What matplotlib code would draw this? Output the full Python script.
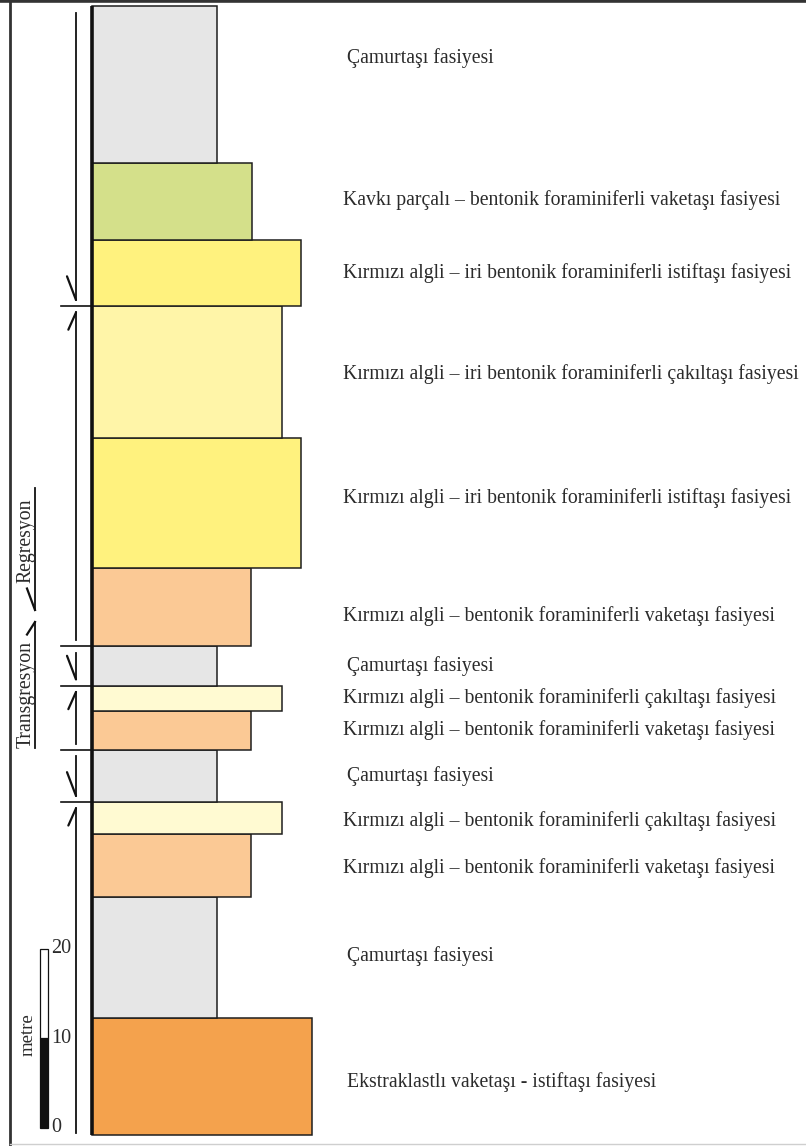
import matplotlib
matplotlib.use("Agg")
import matplotlib.pyplot as plt
import numpy as np

# Stratigraphic column, listed from bottom to top
facies = [
    "Ekstraklastlı vaketaşı - istiftaşı fasiyesi",
    "Çamurtaşı fasiyesi",
    "Kırmızı algli – bentonik foraminiferli vaketaşı fasiyesi",
    "Kırmızı algli – bentonik foraminiferli çakıltaşı fasiyesi",
    "Çamurtaşı fasiyesi",
    "Kırmızı algli – bentonik foraminiferli vaketaşı fasiyesi",
    "Kırmızı algli – bentonik foraminiferli çakıltaşı fasiyesi",
    "Çamurtaşı fasiyesi",
    "Kırmızı algli – bentonik foraminiferli vaketaşı fasiyesi",
    "Kırmızı algli – iri bentonik foraminiferli istiftaşı fasiyesi",
    "Kırmızı algli – iri bentonik foraminiferli çakıltaşı fasiyesi",
    "Kırmızı algli – iri bentonik foraminiferli istiftaşı fasiyesi",
    "Kavkı parçalı – bentonik foraminiferli vaketaşı fasiyesi",
    "Çamurtaşı fasiyesi",
]
thickness_m = [13.1, 13.5, 7.0, 3.6, 5.8, 4.4, 2.8, 4.4, 8.7, 14.6, 14.7, 7.4, 8.6, 17.5]
texture = ["extraclast", "mud", "wacke", "rud", "mud", "wacke", "rud", "mud",
           "wacke", "grain", "pack", "grain", "shellwacke", "mud"]

# Relative column width per texture class
texture_width = {"mud": 125, "wacke": 159, "shellwacke": 160, "rud": 190,
                 "pack": 190, "grain": 209, "extraclast": 220}
texture_color = {"mud": "#e6e6e6", "wacke": "#fbc995", "shellwacke": "#d4e08a",
                 "rud": "#fffad2", "pack": "#fff5a8", "grain": "#fff27e",
                 "extraclast": "#f4a24d"}

# Shallowing / deepening cycles: (bottom, top) as layer-boundary indices
cycle_bounds = [0, 4, 5, 7, 8, 11, 14]
cycle_dir = ["up", "down", "up", "down", "up", "down"]

scale_ticks = [0, 10, 20]

# ---------------------------------------------------------------
PX_PER_M = 8.95
FIG_W, FIG_H = 806, 1146
base_px = 1135
y_top = base_px / PX_PER_M
y_bot = -(FIG_H - base_px) / PX_PER_M

fig = plt.figure(figsize=(FIG_W / 100, FIG_H / 100), dpi=100)
ax = fig.add_axes([0, 0, 1, 1])
ax.set_xlim(0, FIG_W)
ax.set_ylim(y_bot, y_top)
ax.axis("off")

serif = ["Liberation Serif", "DejaVu Serif"]
text_col = "#2b2b2b"
edge = "#1e1e1e"
FS = 14.2

thick = np.array(thickness_m)
tops = np.cumsum(thick)
bases = tops - thick
centers = bases + thick / 2
bounds = np.concatenate([[0], tops])

x0 = 92
widths = [texture_width[t] for t in texture]
colors = [texture_color[t] for t in texture]
ax.barh(centers, widths, height=thick, left=x0, color=colors,
        edgecolor=edge, linewidth=1.1, zorder=2)
# heavy left edge of the column
ax.plot([x0, x0], [0, tops[-1]], color="#111", lw=2.6, zorder=3,
        solid_capstyle="butt")

# facies names, nudged vertically within their beds
label_shift = np.array([-0.6, 0.2, -0.3, -0.3, 0.0, 0.0, 0.0, 0.0,
                        -1.0, 0.6, -0.2, 0.0, 0.2, 3.0])
for c, s, name in zip(centers, label_shift, facies):
    x_txt = 343 if name.startswith("K") else 347
    ax.text(x_txt, c + s, name, ha="left", va="center", fontsize=FS,
            family=serif, color=text_col, zorder=4)

# cycle arrows
ax_x = 76
gap = 0.7
barb_h = 2.4
barb_w = 9
for i, d in enumerate(cycle_dir):
    lo = bounds[cycle_bounds[i]] + gap
    hi = bounds[cycle_bounds[i + 1]] - gap
    if i == len(cycle_dir) - 1:
        hi = bounds[-1] - 0.7
    if i == 0:
        lo = bounds[0] + 0.2
    ax.plot([ax_x, ax_x], [lo, hi], color="#111", lw=1.3, zorder=3)
    if d == "up":
        ax.plot([ax_x, ax_x - barb_w * 0.85], [hi, hi - barb_h * 0.8],
                color="#111", lw=1.6, zorder=3, solid_capstyle="round")
    else:
        ax.plot([ax_x, ax_x - barb_w], [lo, lo + barb_h * 1.1],
                color="#111", lw=1.6, zorder=3, solid_capstyle="round")
for k in cycle_bounds[1:-1]:
    ax.plot([61, x0], [bounds[k], bounds[k]], color="#111", lw=1.2, zorder=3)

# regression / transgression labels
reg_lo, reg_hi = (1135 - 610) / PX_PER_M, (1135 - 488) / PX_PER_M
tr_lo, tr_hi = (1135 - 748) / PX_PER_M, (1135 - 622) / PX_PER_M
lx = 35
ax.plot([lx, lx], [reg_lo, reg_hi], color="#111", lw=1.3)
ax.plot([lx, lx - 8], [reg_lo, reg_lo + 2.4], color="#111", lw=1.6)
ax.plot([lx, lx], [tr_lo, tr_hi], color="#111", lw=1.3)
ax.plot([lx, lx - 8], [tr_hi, tr_hi - 1.4], color="#111", lw=1.6)
ax.text(26, (1135 - 541) / PX_PER_M, "Regresyon", rotation=90, ha="center",
        va="center", fontsize=FS, family=serif, color=text_col)
ax.text(26, (1135 - 694) / PX_PER_M, "Transgresyon", rotation=90, ha="center",
        va="center", fontsize=FS, family=serif, color=text_col)

# metre scale bar
sb_base = 0.8
sb_x, sb_w = 40, 8
ax.bar(sb_x + sb_w / 2, scale_ticks[1] - scale_ticks[0], width=sb_w,
       bottom=sb_base, color="#111", edgecolor="#111", lw=0.9, zorder=3)
ax.bar(sb_x + sb_w / 2, scale_ticks[2] - scale_ticks[1], width=sb_w,
       bottom=sb_base + scale_ticks[1], color="white", edgecolor="#111",
       lw=0.9, zorder=3)
for t in scale_ticks:
    ax.text(sb_x + sb_w + 3, sb_base + t, str(t), ha="left", va="center",
            fontsize=14.5, family=serif, color=text_col)
ax.text(28, sb_base + 10.4, "metre", rotation=90, ha="center", va="center",
        fontsize=13.5, family=serif, color=text_col)

# frame
ax.plot([0, FIG_W], [y_top - 0.15, y_top - 0.15], color="#333", lw=2.6)
ax.plot([10, 10], [y_bot + 0.15, y_top], color="#333", lw=2.0)
ax.plot([10, FIG_W], [y_bot + 0.2, y_bot + 0.2], color="#cfcfcf", lw=1.0)

fig.savefig("out.png", dpi=100)
